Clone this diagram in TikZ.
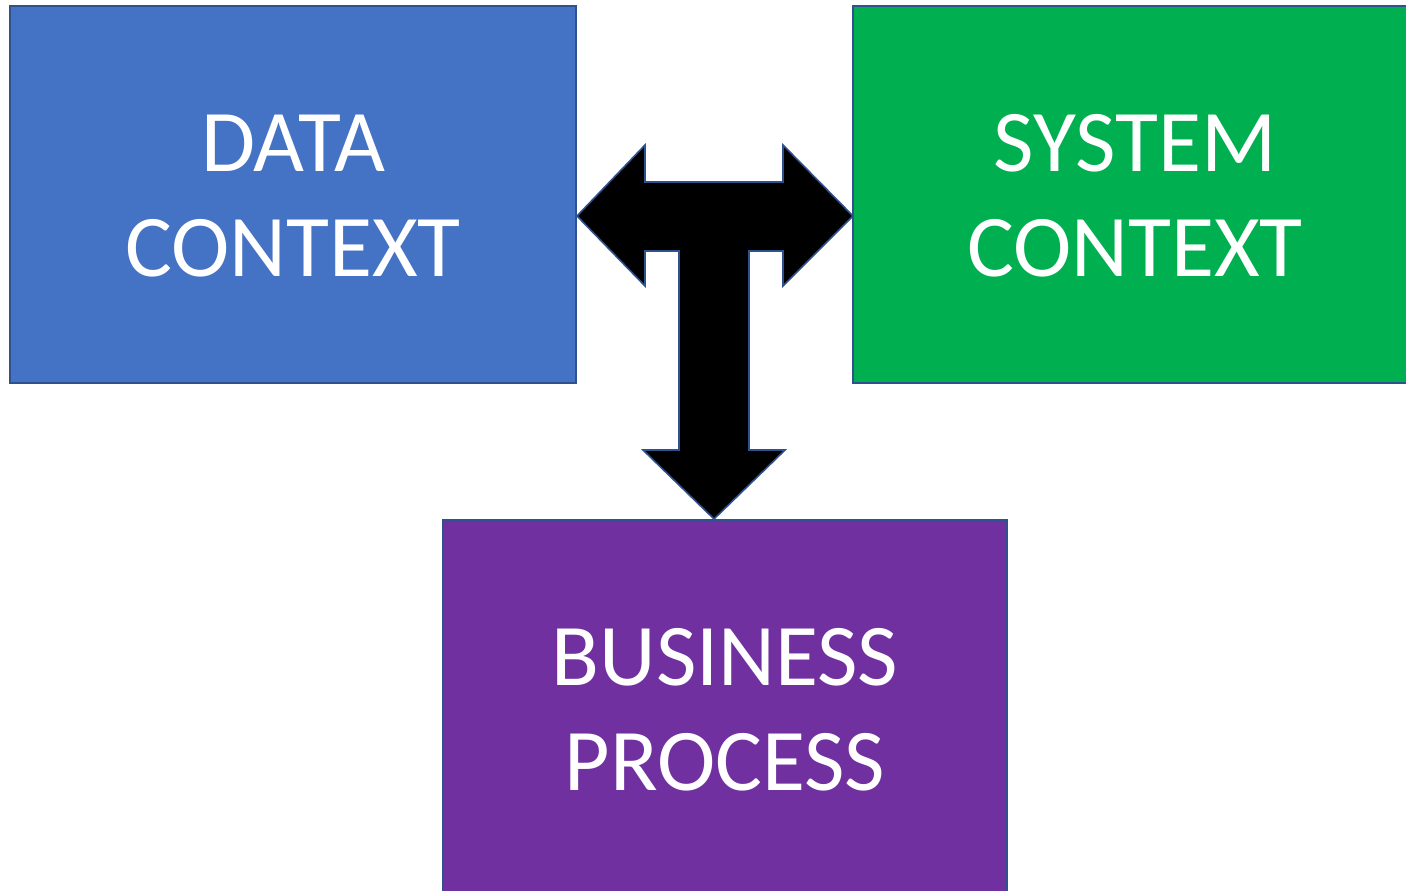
\documentclass[tikz,border=0pt]{standalone}
\usepackage{fontspec}
\setmainfont{Carlito}
\definecolor{dblue}{HTML}{4472C4}
\definecolor{dgreen}{HTML}{00B050}
\definecolor{dpurple}{HTML}{7030A0}
\definecolor{edge}{HTML}{2F528F}
\begin{document}
\begin{tikzpicture}[x=0.75pt,y=-0.75pt,
  box/.style={draw=edge,line width=1.5pt},
  lbl/.style={text=white,align=center,font=\fontsize{66pt}{79pt}\selectfont}]
\useasboundingbox (0,0) rectangle (1406,891);
\clip (0,0) rectangle (1406,891);
\fill[white] (0,0) rectangle (1406,891);
\draw[box,fill=dblue] (10,6) rectangle (576,383);
\draw[box,fill=dgreen] (853,6) rectangle (1418,383);
\draw[box,fill=dpurple] (443,520) rectangle (1007,900);
\node[lbl] (data) at (293,196) {DATA\\CONTEXT};
\node[lbl] (sys) at (1135,196) {SYSTEM\\CONTEXT};
\node[lbl] (bus) at (725,710) {BUSINESS\\PROCESS};
\draw[fill=black,draw=edge,line width=1.2pt,line join=miter]
  (577,216) -- (645,145) -- (645,182) -- (783,182) -- (783,145) -- (853,216)
  -- (783,286) -- (783,251) -- (749,251) -- (749,450) -- (785,450) -- (714,519)
  -- (643,450) -- (679,450) -- (679,251) -- (645,251) -- (645,286) -- cycle;
\end{tikzpicture}
\end{document}
